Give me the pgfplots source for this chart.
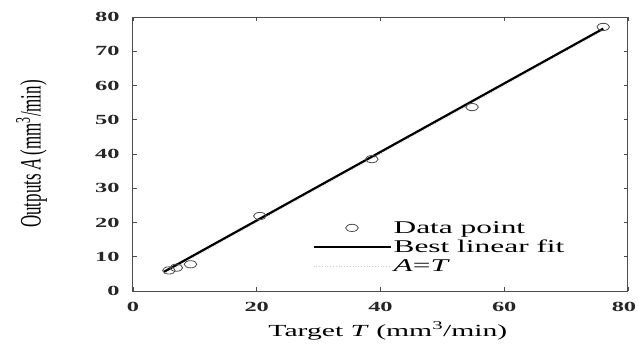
\documentclass[border=0pt]{standalone}
\usepackage{pgfplots}
\pgfplotsset{compat=1.18}
\usepackage{fontspec}
\setmainfont{Liberation Serif}
\newfontfamily\sfs[FakeStretch=1.75]{Liberation Serif}
\begin{document}
\begin{tikzpicture}
\path[use as bounding box] (-133bp,-57bp) rectangle (505bp,291bp);
\begin{axis}[
  at={(0,0)}, anchor=south west,
  scale only axis, width=495bp, height=274bp,
  xmin=0, xmax=80, ymin=0, ymax=80,
  xtick={0,20,40,60}, ytick={0,10,...,80},
  extra x ticks={80},
  extra x tick style={xticklabel style={xshift=-4bp}},
  tick align=inside, major tick length=4bp,
  tick style={gray!60!black, line width=0.8bp},
  axis line style={gray!60!black, line width=1bp},
  /pgf/number format/assume math mode=true,
  ticklabel style={font=\sfs\bfseries\fontsize{14}{16}\selectfont, text=black!85},
  xticklabel style={yshift=-8bp},
  yticklabel style={xshift=-10bp},
  xlabel={Target \textit{T} (mm\textsuperscript{3}/min)},
  xlabel style={font=\sfs\fontsize{17}{19}\selectfont, at={(axis description cs:0.515,-0.146)}, anchor=center},
  ylabel={Outputs \textit{A} (mm\textsuperscript{3}/min)},
  ylabel style={font=\fontsize{17}{19}\selectfont, yscale=1.75, at={(axis description cs:-0.205,0.5)}, anchor=center},
  legend style={draw=none, fill=none, font=\sfs\fontsize{18}{18}\selectfont,
    at={(axis description cs:0.356,0.27)}, anchor=north west, row sep=1.5bp, cells={anchor=west}},
  legend image code/.code={\draw[mark repeat=2,mark phase=2,#1] plot coordinates {(0bp,0bp) (38.5bp,0bp) (77bp,0bp)};},
]
\addplot[gray!40, dotted, line width=0.8bp, forget plot] coordinates {(5,5) (77,77)};
\addplot[only marks, mark=o, mark size=3.6bp, mark options={xscale=1.75, draw=black!70, line width=0.8bp}] coordinates {
(5.8,6.0) (7.0,6.8) (9.3,7.8) (20.5,21.9) (38.6,38.5) (54.8,53.7) (76.0,77.1)};
\addlegendentry{Data point}
\addplot[black, line width=2.2bp] coordinates {(5,5.6) (76,76.6)};
\addlegendentry{Best linear fit}
\addlegendimage{gray!40, dotted, line width=0.8bp}
\addlegendentry{\textit{A}=\textit{T}}
\end{axis}
\end{tikzpicture}
\end{document}
